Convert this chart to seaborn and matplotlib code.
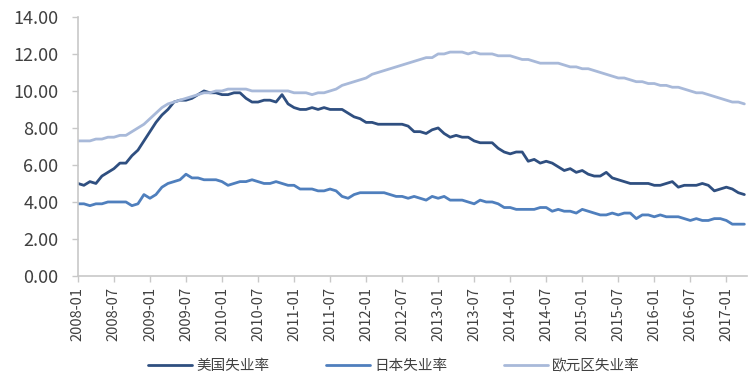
import numpy as np
import pandas as pd
import matplotlib
matplotlib.use("Agg")
import matplotlib.pyplot as plt
import seaborn as sns

# monthly unemployment rates, 2008-01 .. 2017-04
us_rate = [
    5.0, 4.9, 5.1, 5.0, 5.4, 5.6, 5.8, 6.1, 6.1, 6.5, 6.8, 7.3,
    7.8, 8.3, 8.7, 9.0, 9.4, 9.5, 9.5, 9.6, 9.8, 10.0, 9.9, 9.9,
    9.8, 9.8, 9.9, 9.9, 9.6, 9.4, 9.4, 9.5, 9.5, 9.4, 9.8, 9.3,
    9.1, 9.0, 9.0, 9.1, 9.0, 9.1, 9.0, 9.0, 9.0, 8.8, 8.6, 8.5,
    8.3, 8.3, 8.2, 8.2, 8.2, 8.2, 8.2, 8.1, 7.8, 7.8, 7.7, 7.9,
    8.0, 7.7, 7.5, 7.6, 7.5, 7.5, 7.3, 7.2, 7.2, 7.2, 6.9, 6.7,
    6.6, 6.7, 6.7, 6.2, 6.3, 6.1, 6.2, 6.1, 5.9, 5.7, 5.8, 5.6,
    5.7, 5.5, 5.4, 5.4, 5.6, 5.3, 5.2, 5.1, 5.0, 5.0, 5.0, 5.0,
    4.9, 4.9, 5.0, 5.1, 4.8, 4.9, 4.9, 4.9, 5.0, 4.9, 4.6, 4.7,
    4.8, 4.7, 4.5, 4.4,
]
jp_rate = [
    3.9, 3.9, 3.8, 3.9, 3.9, 4.0, 4.0, 4.0, 4.0, 3.8, 3.9, 4.4,
    4.2, 4.4, 4.8, 5.0, 5.1, 5.2, 5.5, 5.3, 5.3, 5.2, 5.2, 5.2,
    5.1, 4.9, 5.0, 5.1, 5.1, 5.2, 5.1, 5.0, 5.0, 5.1, 5.0, 4.9,
    4.9, 4.7, 4.7, 4.7, 4.6, 4.6, 4.7, 4.6, 4.3, 4.2, 4.4, 4.5,
    4.5, 4.5, 4.5, 4.5, 4.4, 4.3, 4.3, 4.2, 4.3, 4.2, 4.1, 4.3,
    4.2, 4.3, 4.1, 4.1, 4.1, 4.0, 3.9, 4.1, 4.0, 4.0, 3.9, 3.7,
    3.7, 3.6, 3.6, 3.6, 3.6, 3.7, 3.7, 3.5, 3.6, 3.5, 3.5, 3.4,
    3.6, 3.5, 3.4, 3.3, 3.3, 3.4, 3.3, 3.4, 3.4, 3.1, 3.3, 3.3,
    3.2, 3.3, 3.2, 3.2, 3.2, 3.1, 3.0, 3.1, 3.0, 3.0, 3.1, 3.1,
    3.0, 2.8, 2.8, 2.8,
]
ez_rate = [
    7.3, 7.3, 7.3, 7.4, 7.4, 7.5, 7.5, 7.6, 7.6, 7.8, 8.0, 8.2,
    8.5, 8.8, 9.1, 9.3, 9.4, 9.5, 9.6, 9.7, 9.8, 9.9, 9.9, 10.0,
    10.0, 10.1, 10.1, 10.1, 10.1, 10.0, 10.0, 10.0, 10.0, 10.0, 10.0, 10.0,
    9.9, 9.9, 9.9, 9.8, 9.9, 9.9, 10.0, 10.1, 10.3, 10.4, 10.5, 10.6,
    10.7, 10.9, 11.0, 11.1, 11.2, 11.3, 11.4, 11.5, 11.6, 11.7, 11.8, 11.8,
    12.0, 12.0, 12.1, 12.1, 12.1, 12.0, 12.1, 12.0, 12.0, 12.0, 11.9, 11.9,
    11.9, 11.8, 11.7, 11.7, 11.6, 11.5, 11.5, 11.5, 11.5, 11.4, 11.3, 11.3,
    11.2, 11.2, 11.1, 11.0, 10.9, 10.8, 10.7, 10.7, 10.6, 10.5, 10.5, 10.4,
    10.4, 10.3, 10.3, 10.2, 10.2, 10.1, 10.0, 9.9, 9.9, 9.8, 9.7, 9.6,
    9.5, 9.4, 9.4, 9.3,
]
series_names = ["美国失业率", "日本失业率", "欧元区失业率"]
series_colors = ["#2f4f80", "#4f7fbd", "#a8b9d9"]
months = pd.period_range("2008-01", periods=len(us_rate), freq="M")
tick_labels = [str(m) for m in months[::6]]

frames = []
for name, vals in zip(series_names, [us_rate, jp_rate, ez_rate]):
    frames.append(pd.DataFrame({"idx": np.arange(len(vals)), "rate": vals, "series": name}))
df = pd.concat(frames, ignore_index=True)

sns.set_style("white")
plt.rcParams["font.family"] = ["Noto Sans CJK SC", "DejaVu Sans"]

fig = plt.figure(figsize=(7.49, 3.76), dpi=100)
ax = fig.add_axes([0.104, 0.266, 0.893, 0.689])

sns.lineplot(data=df, x="idx", y="rate", hue="series", hue_order=series_names,
             palette=series_colors, linewidth=2.0, ax=ax)

ax.set_xlim(0, len(us_rate) - 0.6)
ax.set_ylim(0, 14)
ax.set_yticks(np.arange(0, 14.1, 2))
ax.set_yticklabels([f"{v:.2f}" for v in np.arange(0, 14.1, 2)], fontsize=13, color="#404040")
ax.set_xticks(np.arange(0, len(us_rate), 6))
ax.set_xticklabels(tick_labels, rotation=90, fontsize=10.5, color="#404040")
ax.set_xlabel("")
ax.set_ylabel("")

for side in ["top", "right"]:
    ax.spines[side].set_visible(False)
for side in ["left", "bottom"]:
    ax.spines[side].set_color("#c8c8c8")
    ax.spines[side].set_linewidth(1.2)
ax.tick_params(axis="both", which="major", length=4, width=1, color="#c8c8c8",
               left=True, bottom=True)
ax.tick_params(axis="y", pad=10)
ax.tick_params(axis="x", pad=4)

handles, labels = ax.get_legend_handles_labels()
ax.get_legend().remove()
fig.legend(handles, labels, loc="center", bbox_to_anchor=(0.526, 0.027), ncol=3,
           frameon=False, fontsize=10.5, handlelength=3.0, handletextpad=0.3,
           columnspacing=3.9, labelcolor="#404040")

fig.savefig("out.png", dpi=100)
